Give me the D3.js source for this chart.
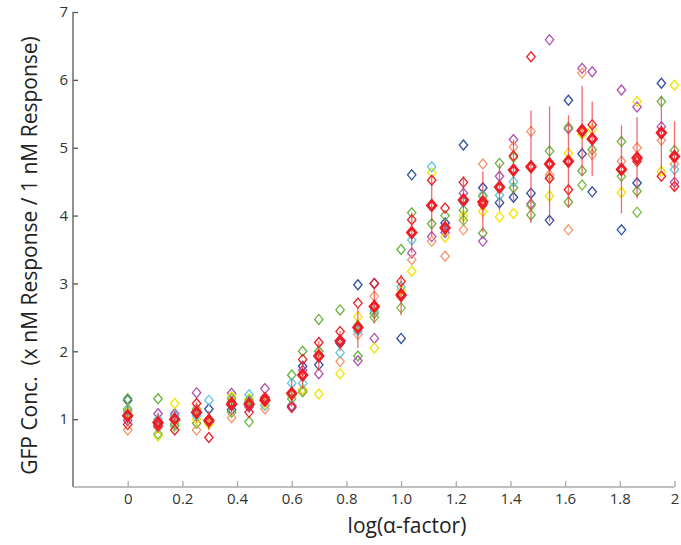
<!DOCTYPE html>
<html>
<head>
<meta charset="utf-8">
<script src="https://cdn.jsdelivr.net/npm/d3@7"></script>
<style>
  body { margin: 0; background: #fff; }
  svg { display: block; font-family: "Open Sans", "Noto Sans", sans-serif; }
</style>
</head>
<body>
<svg id="chart" width="681" height="545"></svg>
<script>
// log10 of alpha-factor dose for each measured group
const doses = [0, 0.111, 0.172, 0.252, 0.297, 0.38, 0.444, 0.502, 0.6, 0.64, 0.699,
  0.777, 0.842, 0.902, 1.0, 1.039, 1.112, 1.161, 1.228, 1.299, 1.36, 1.411, 1.475,
  1.543, 1.612, 1.662, 1.699, 1.806, 1.863, 1.952, 2.0];

// replicate measurements (normalised GFP), one array per replicate
const blueRep   = [1.28, 0.93, 1.00, 1.08, 1.15, 1.14, 1.25, 1.28, 1.19, 1.78, 1.80, 2.12, 2.98, 3.00, 2.19, 4.60, 4.15, 3.89, 5.04, 4.41, 4.19, 4.27, 4.33, 3.93, 5.70, 4.91, 4.35, 3.79, 4.48, 5.95, null];
const greenRep  = [1.30, 1.30, 0.93, 0.94, 0.97, 1.10, 0.96, 1.30, 1.65, 2.00, 2.47, 2.61, 1.93, 2.56, 3.50, 4.04, 3.88, 4.00, 4.08, 3.74, 4.77, 4.41, 4.01, 4.95, 4.20, 4.66, 4.97, 5.09, 4.36, 5.68, 4.96];
const purpleRep = [0.98, 1.08, 1.08, 1.39, 0.95, 1.38, 1.18, 1.45, 1.20, 1.72, 1.67, 2.15, 1.86, 2.19, 2.85, 3.45, 3.69, 3.75, 4.33, 3.62, 4.58, 5.12, 4.17, 6.59, 5.28, 6.17, 6.12, 5.85, 5.60, 5.31, 4.49];
const orangeRep = [0.84, 0.88, 0.98, 0.84, 1.00, 1.02, 1.20, 1.15, 1.35, 1.42, 1.95, 1.85, 2.25, 2.81, 2.80, 3.35, 3.62, 3.40, 3.79, 4.76, 4.40, 5.01, 5.24, 4.60, 3.79, 6.10, 4.90, 4.80, 5.00, 5.11, 4.76];
const yellowRep = [1.10, 0.75, 1.23, 1.00, 0.93, 1.33, 1.30, 1.22, 1.37, 1.44, 1.37, 1.67, 2.51, 2.05, 2.90, 3.18, 4.63, 3.68, 3.99, 4.06, 3.98, 4.03, 4.72, 4.29, 4.92, 5.20, 5.27, 4.34, 5.68, 4.65, 5.92];
const cyanRep   = [1.12, 1.00, 1.05, 1.05, 1.28, 1.20, 1.36, 1.20, 1.53, 1.53, 2.00, 1.98, 2.30, 2.60, 2.95, 3.64, 4.72, 3.80, 4.20, 4.30, 4.30, 4.50, null, null, null, null, null, null, null, null, 4.68];
const redRep    = [0.92, 0.90, 0.84, 1.23, 0.73, 1.25, 1.10, 1.32, 1.17, 1.88, 2.13, 2.29, 2.71, 3.00, 3.03, 3.94, 4.52, 4.11, 4.49, 4.16, 4.42, 4.88, 6.34, 4.55, 4.38, 5.27, 5.34, 4.69, 4.80, 4.58, 4.43];
const limeRep   = [1.15, 0.78, 0.90, 1.15, null, 1.30, 1.28, null, 1.30, 1.40, 2.00, null, 2.38, 2.50, 2.64, 3.74, null, null, 3.93, 4.28, null, 4.86, 4.15, 4.55, 5.30, 4.45, null, 4.58, 4.05, null, null];

// group mean and its spread
const meanVals = [1.05, 0.95, 1.00, 1.10, 0.98, 1.22, 1.22, 1.28, 1.38, 1.65, 1.93, 2.15, 2.35, 2.66, 2.83, 3.75, 4.15, 3.82, 4.23, 4.20, 4.42, 4.67, 4.72, 4.76, 4.80, 5.25, 5.13, 4.68, 4.85, 5.22, 4.87];
const meanErr  = [0.15, 0.15, 0.12, 0.15, 0.14, 0.12, 0.12, 0.10, 0.20, 0.20, 0.22, 0.15, 0.30, 0.25, 0.30, 0.30, 0.45, 0.12, 0.35, 0.45, 0.35, 0.45, 0.83, 0.85, 0.68, 0.66, 0.55, 0.65, 0.60, 0.55, 0.52];

const xTicks = [0, 0.2, 0.4, 0.6, 0.8, 1.0, 1.2, 1.4, 1.6, 1.8, 2];
const xTickLabels = ["0", "0.2", "0.4", "0.6", "0.8", "1.0", "1.2", "1.4", "1.6", "1.8", "2"];
const yTicks = [1, 2, 3, 4, 5, 6, 7];

const replicates = [
  { values: blueRep,   color: "#2f4ea3" },
  { values: greenRep,  color: "#67b33d" },
  { values: purpleRep, color: "#b24fb2" },
  { values: orangeRep, color: "#f8956b" },
  { values: yellowRep, color: "#f2e400" },
  { values: cyanRep,   color: "#5cc7e4" },
  { values: limeRep,   color: "#7bbd45" },
  { values: redRep,    color: "#ee1d25" }
];

const svg = d3.select("#chart");
const margin = { left: 73, right: 6, top: 12, bottom: 58 };
const W = 681, H = 545;

const x = d3.scaleLinear().domain([-0.2, 2.0]).range([margin.left, 674.5]);
const y = d3.scaleLinear().domain([0, 7]).range([H - margin.bottom, margin.top]);

// diamond marker path centred at 0,0
const diamond = (w, h) => `M0,${-h} L${w},0 L0,${h} L${-w},0 Z`;

// y axis (ticks point inward)
const yAxis = d3.axisRight(y).tickValues(yTicks).tickSize(5).tickFormat(d3.format("d"));
const yg = svg.append("g").attr("transform", `translate(${x(-0.2)},0)`).call(yAxis);
yg.select(".domain").attr("stroke", "#555").attr("stroke-width", 1.3).attr("d", `M0,${y(7)}V${y(0)}`);
yg.selectAll(".tick line").attr("stroke", "#555").attr("stroke-width", 1.3);
yg.selectAll(".tick text").attr("x", -5).attr("text-anchor", "end")
  .attr("font-size", 15).attr("fill", "#333").attr("font-family", "'Open Sans', sans-serif");

// x axis (ticks point inward)
const xAxis = d3.axisTop(x).tickValues(xTicks).tickSize(6)
  .tickFormat((d, i) => xTickLabels[i]);
const xg = svg.append("g").attr("transform", `translate(0,${y(0)})`).call(xAxis);
xg.select(".domain").attr("stroke", "#aaa").attr("stroke-width", 1.3).attr("d", `M${x(-0.2)},0H${x(2.0)}`);
xg.selectAll(".tick line").attr("stroke", "#aaa").attr("stroke-width", 1.3);
xg.selectAll(".tick text").attr("y", 6).attr("dy", "0.71em").attr("text-anchor", "middle")
  .attr("font-size", 15).attr("fill", "#333").attr("font-family", "'Open Sans', sans-serif");

// replicate points
const plot = svg.append("g");
replicates.forEach(rep => {
  plot.append("g").selectAll("path")
    .data(rep.values.map((v, i) => ({ x: doses[i], v })).filter(d => d.v != null))
    .join("path")
    .attr("d", diamond(4.2, 5))
    .attr("transform", d => `translate(${x(d.x)},${y(d.v)})`)
    .attr("fill", "none")
    .attr("stroke", rep.color)
    .attr("stroke-width", 1.3);
});

// error bars around the mean
const meanData = meanVals.map((v, i) => ({ x: doses[i], v, e: meanErr[i] }));
plot.append("g").selectAll("line")
  .data(meanData)
  .join("line")
  .attr("x1", d => x(d.x)).attr("x2", d => x(d.x))
  .attr("y1", d => y(d.v - d.e)).attr("y2", d => y(d.v + d.e))
  .attr("stroke", "#ee3a3a").attr("stroke-opacity", 0.75).attr("stroke-width", 1.3);

// mean markers
plot.append("g").selectAll("path")
  .data(meanData)
  .join("path")
  .attr("d", diamond(4.2, 5))
  .attr("transform", d => `translate(${x(d.x)},${y(d.v)})`)
  .attr("fill", "none")
  .attr("stroke", "#ee1d25")
  .attr("stroke-width", 2.8);

// axis titles
svg.append("text")
  .attr("x", 407).attr("y", 533)
  .attr("text-anchor", "middle")
  .attr("font-size", 21).attr("fill", "#222")
  .text("log(α-factor)");

svg.append("text")
  .attr("transform", `translate(37,${(y(0) + y(7)) / 2 + 6}) rotate(-90)`)
  .attr("text-anchor", "middle")
  .attr("font-size", 21).attr("fill", "#222")
  .style("white-space", "pre")
  .text("GFP Conc.  (x nM Response / 1 nM Response)");
</script>
</body>
</html>
